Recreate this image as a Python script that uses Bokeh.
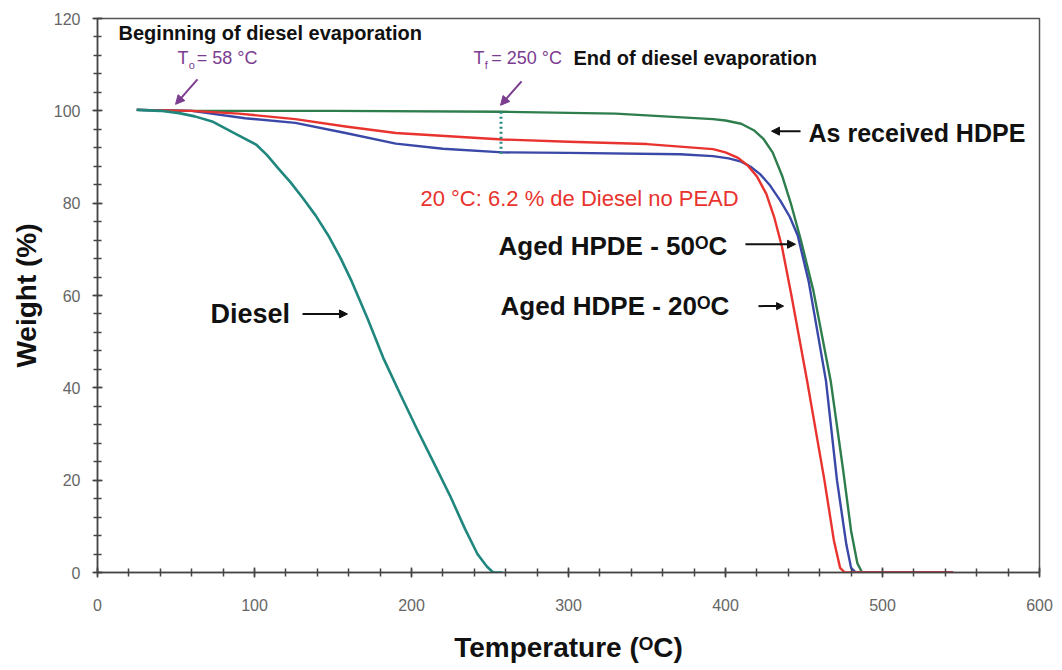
from bokeh.plotting import figure
from bokeh.models import Label, Arrow, NormalHead, Range1d, FixedTicker
from bokeh.embed import file_html
from bokeh.resources import INLINE

# ---- data ----
diesel_T = [25, 40, 52, 62, 73, 88, 101, 108, 115, 123, 131, 139, 147, 155, 162, 172, 182, 193, 204, 215, 225, 234, 242, 248, 252, 258]
diesel_W = [100.2, 100, 99.5, 98.8, 97.7, 95, 92.7, 90.4, 87.6, 84.5, 81, 77.3, 73, 68, 63, 55, 46.5, 38.5, 30.7, 23.2, 16.3, 9.5, 4, 1.3, 0, 0]

asrec_T = [25, 60, 150, 258, 330, 392, 400, 410, 418, 424, 430, 436, 442, 448, 456, 467, 475, 480, 484, 487, 545]
asrec_W = [100.2, 100, 100, 99.8, 99.4, 98.2, 97.9, 97.2, 95.8, 94.0, 91.0, 86.0, 79.5, 72, 61, 41.5, 22, 9, 2, 0, 0]

aged20_T = [25, 60, 90, 126, 158, 190, 258, 300, 350, 392, 400, 408, 414, 420, 426, 431, 436, 442, 452, 463, 469, 473, 476, 545]
aged20_W = [100.2, 100, 99.4, 98.2, 96.6, 95.2, 93.8, 93.3, 92.8, 91.7, 91.0, 89.8, 88.2, 85.8, 82.0, 77.0, 70.5, 60, 41.5, 20, 7, 1, 0, 0]

aged50_T = [25, 60, 94, 126, 158, 190, 220, 258, 300, 371, 392, 402, 410, 416, 422, 428, 435, 441, 446, 453, 464, 471, 477, 480, 483, 545]
aged50_W = [100.2, 100, 98.4, 97.4, 95.2, 92.9, 91.8, 91.0, 90.9, 90.6, 90.2, 89.7, 89.0, 87.9, 86.3, 84.0, 80.5, 77.0, 73, 63, 41.5, 20, 6, 1, 0, 0]

dotted_T = [257, 257]
dotted_W = [99.8, 90.3]

x_ticks = [0, 100, 200, 300, 400, 500, 600]
y_ticks = [0, 20, 40, 60, 80, 100, 120]

FONT = "Liberation Sans"
PURPLE = "#7b3d8f"

p = figure(frame_width=942, frame_height=554,
           min_border_left=97, min_border_right=15, min_border_top=18, min_border_bottom=90,
           x_range=Range1d(0, 600), y_range=Range1d(0, 120),
           output_backend="svg", toolbar_location=None,
           background_fill_color="white", border_fill_color="white")

p.xgrid.visible = False
p.ygrid.visible = False
p.outline_line_color = "#555555"
p.outline_line_width = 1.5

for ax in (p.xaxis[0], p.yaxis[0]):
    ax.axis_line_color = "#444444"
    ax.axis_line_width = 1.5
    ax.major_tick_line_color = "#444444"
    ax.minor_tick_line_color = "#444444"
    ax.major_tick_line_width = 1.5
    ax.minor_tick_line_width = 1.5
    ax.major_tick_in = 5
    ax.major_tick_out = 5
    ax.minor_tick_in = 4
    ax.minor_tick_out = 4
    ax.major_label_text_font = FONT
    ax.major_label_text_font_size = "16px"
    ax.major_label_text_color = "#666666"
    ax.axis_label_text_font = FONT
    ax.axis_label_text_font_style = "bold"
    ax.axis_label_text_font_size = "28px"
    ax.axis_label_text_color = "#111111"

p.xaxis[0].ticker = FixedTicker(ticks=x_ticks, minor_ticks=list(range(0, 601, 20)))
p.yaxis[0].ticker = FixedTicker(ticks=y_ticks, minor_ticks=list(range(0, 121, 4)))
p.xaxis[0].axis_label = "Temperature (ᴼC)"
p.yaxis[0].axis_label = "Weight (%)"
p.xaxis[0].major_label_standoff = 21
p.xaxis[0].axis_label_standoff = 18
p.yaxis[0].major_label_standoff = 12
p.yaxis[0].axis_label_standoff = 9

# ---- curves ----
p.line(asrec_T, asrec_W, line_color="#2e7d4c", line_width=2.4, line_join="round")
p.line(aged50_T, aged50_W, line_color="#3a48a8", line_width=2.4, line_join="round")
p.line(aged20_T, aged20_W, line_color="#e8332e", line_width=2.4, line_join="round")
p.line(diesel_T, diesel_W, line_color="#1f877d", line_width=2.6, line_join="round")
p.line(dotted_T, dotted_W, line_color="#2a8a80", line_width=3, line_dash="2 3")

# ---- annotations ----
def lab(x, y, text, size, color="#111111", style="bold", align="left"):
    p.add_layout(Label(x=x, y=y, text=text, text_font=FONT, text_font_size=size,
                       text_color=color, text_font_style=style, text_align=align,
                       text_baseline="middle"))

lab(13.4, 116.8, "Beginning of diesel evaporation", "20px")
lab(51.0, 111.35, "T", "18px", PURPLE, "normal")
lab(58.2, 110.0, "o", "11px", PURPLE, "normal")
lab(63.2, 111.35, "= 58 °C", "18px", PURPLE, "normal")

lab(239.5, 111.35, "T", "18px", PURPLE, "normal")
lab(246.7, 110.0, "f", "11px", PURPLE, "normal")
lab(250.8, 111.35, "= 250 °C", "18px", PURPLE, "normal")
lab(303.2, 111.35, "End of diesel evaporation", "20px")

lab(452.9, 95.1, "As received HDPE", "25px")
lab(205.7, 81.1, "20 °C: 6.2 % de Diesel no PEAD", "22px", "#e8332e", "normal")
lab(255.4, 70.7, "Aged HPDE - 50ᴼC", "26px")
lab(256.7, 57.7, "Aged HDPE - 20ᴼC", "26px")
lab(72.0, 56.0, "Diesel", "27px")

def arrow(x0, y0, x1, y1, color, size=9, width=2):
    p.add_layout(Arrow(x_start=x0, y_start=y0, x_end=x1, y_end=y1,
                       line_color=color, line_width=width,
                       end=NormalHead(size=size, fill_color=color, line_color=color)))

arrow(63.7, 106.8, 49.7, 101.4, PURPLE)
arrow(270.1, 106.4, 256.7, 101.2, PURPLE)
arrow(447.8, 95.6, 429.3, 95.6, "#111111", 8)
arrow(412.7, 71.1, 444.6, 71.1, "#111111", 8)
arrow(421.0, 57.7, 437.0, 57.7, "#111111", 7)
arrow(130.6, 56.0, 159.2, 56.0, "#111111", 8)

open("out.html", "w").write(file_html(p, INLINE))
